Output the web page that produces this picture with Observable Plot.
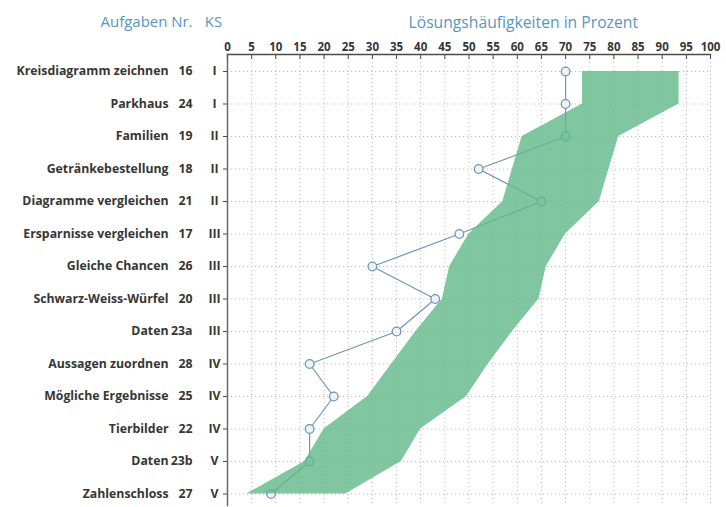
<!DOCTYPE html>
<html>
<head>
<meta charset="utf-8">
<script src="https://cdn.jsdelivr.net/npm/d3@7"></script>
<script src="https://cdn.jsdelivr.net/npm/@observablehq/plot@0.6"></script>
<style>
  html, body { margin: 0; padding: 0; background: #fff; }
  #chart svg { display: block; }
</style>
</head>
<body>
<div id="chart"></div>
<script>
// Aufgaben (tasks), top to bottom
const taskNames = [
  "Kreisdiagramm zeichnen", "Parkhaus", "Familien", "Getränkebestellung",
  "Diagramme vergleichen", "Ersparnisse vergleichen", "Gleiche Chancen",
  "Schwarz-Weiss-Würfel", "Daten", "Aussagen zuordnen", "Mögliche Ergebnisse",
  "Tierbilder", "Daten", "Zahlenschloss"
];
const taskNumbers = ["16", "24", "19", "18", "21", "17", "26", "20", "23a", "28", "25", "22", "23b", "27"];
const ksLevels = ["I", "I", "II", "II", "II", "III", "III", "III", "III", "IV", "IV", "IV", "V", "V"];
// Lösungshäufigkeiten (percent) – line with circles
const solveRates = [70, 70, 70, 52, 65, 48, 30, 43, 35, 17, 22, 17, 17, 9];
// green band: lower and upper edge (percent)
const bandLow  = [73.5, 73.5, 61, 59, 57, 50, 46, 44.5, 39, 34, 29, 20, 16, 4];
const bandHigh = [93.5, 93.5, 81, 79, 77, 70, 66, 64.5, 59, 54, 49.5, 40, 36, 24.5];
// x axis tick labels
const xTickValues = [0, 5, 10, 15, 20, 25, 30, 35, 40, 45, 50, 55, 60, 65, 70, 75, 80, 85, 90, 95, 100];

const rows = taskNames.map((name, i) => ({
  i, name, nr: taskNumbers[i], ks: ksLevels[i],
  v: solveRates[i], lo: bandLow[i], hi: bandHigh[i]
}));
const rowIdx = rows.map(d => d.i);

const blue = "#5896c2";
const lineBlue = "#6f96b6";
const labelColor = "#363636";
const font = "'Open Sans', 'Liberation Sans', sans-serif";

const chart = Plot.plot({
  width: 726,
  height: 507,
  marginTop: 54,
  marginLeft: 227,
  marginRight: 16,
  marginBottom: 2,
  x: { type: "linear", domain: [0, 100] },
  y: { type: "linear", domain: [0, 13], range: [71, 493.5] },
  style: { fontFamily: font, background: "#fff", color: labelColor },
  marks: [
    // dotted grid
    Plot.ruleX(xTickValues.slice(1), { stroke: "#bdbdbd", strokeDasharray: "1.2,2.8", strokeWidth: 1 }),
    Plot.ruleY(rowIdx, { x1: 0, x2: 100, stroke: "#bdbdbd", strokeDasharray: "1.2,2.8", strokeWidth: 1 }),
    // line with circles
    Plot.line(rows, { x: "v", y: "i", stroke: lineBlue, strokeWidth: 1.2 }),
    Plot.dot(rows, { x: "v", y: "i", r: 4.3, stroke: lineBlue, strokeWidth: 1.3, fill: "#eef3f8" }),
    // green band on top
    Plot.areaX(rows, { y: "i", x1: "lo", x2: "hi", fill: "#5fb88a", fillOpacity: 0.8 }),
    // axes
    Plot.frame({ anchor: "top", stroke: "#4a4a4a", strokeWidth: 1.5 }),
    Plot.frame({ anchor: "left", stroke: "#6a6a6a", strokeWidth: 1.5 }),
    Plot.axisX({
      anchor: "top", ticks: xTickValues, tickSize: 0, tickPadding: 4, label: null,
      fontSize: 11.5, fontWeight: "bold", fill: labelColor
    }),
    Plot.axisX({
      anchor: "top", ticks: xTickValues, tickSize: -4, tickFormat: () => "", label: null, stroke: "#4a4a4a"
    }),
    Plot.axisY({ anchor: "left", ticks: rowIdx, tickSize: 4, tickFormat: () => "", label: null, stroke: "#4a4a4a" }),
    // row labels
    Plot.text(rows, { y: "i", text: "name", frameAnchor: "left", dx: -59, textAnchor: "end",
      fontSize: 12.3, fontWeight: 700, fill: labelColor }),
    Plot.text(rows, { y: "i", text: "nr", frameAnchor: "left", dx: -35, textAnchor: "end",
      fontSize: 12.3, fontWeight: 700, fill: labelColor }),
    Plot.text(rows, { y: "i", text: "ks", frameAnchor: "left", dx: -13, textAnchor: "middle",
      fontSize: 12.3, fontWeight: 700, fill: labelColor }),
    // headers
    Plot.text(["Aufgaben"], { text: d => d, frameAnchor: "top-left", dx: -60, dy: -38, textAnchor: "end",
      fontSize: 15, fill: blue }),
    Plot.text(["Nr."], { text: d => d, frameAnchor: "top-left", dx: -35, dy: -38, textAnchor: "end",
      fontSize: 15, fill: blue }),
    Plot.text(["KS"], { text: d => d, frameAnchor: "top-left", dx: -14, dy: -38, textAnchor: "middle",
      fontSize: 15, fill: blue }),
    Plot.text(["Lösungshäufigkeiten in Prozent"], { text: d => d, frameAnchor: "top-left", dx: 181, dy: -38,
      textAnchor: "start", fontSize: 15.7, fill: blue })
  ]
});
document.getElementById("chart").appendChild(chart);
</script>
</body>
</html>
